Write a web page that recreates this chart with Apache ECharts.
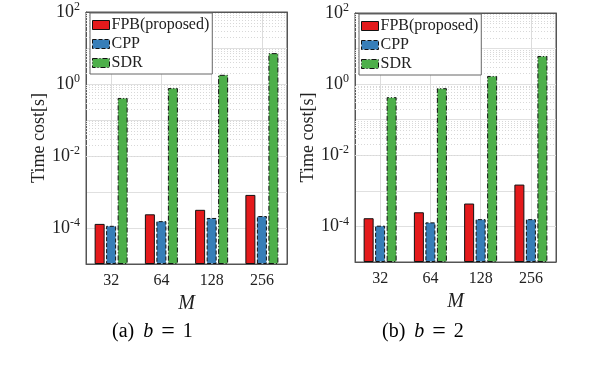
<!DOCTYPE html>
<html>
<head>
<meta charset="utf-8">
<script src="https://cdn.jsdelivr.net/npm/echarts@6/dist/echarts.min.js"></script>
<style>
  html, body { margin: 0; padding: 0; background: #fff; }
  #chart { width: 590px; height: 366px; }
</style>
</head>
<body>
<div id="chart"></div>
<script>
// data
const categories = ['32', '64', '128', '256'];
const fpbA = [1.3e-4, 2.4e-4, 3.2e-4, 8.3e-4];
const cppA = [1.15e-4, 1.55e-4, 1.9e-4, 2.15e-4];
const sdrA = [0.41, 0.77, 1.8, 7.2];
const fpbB = [1.7e-4, 2.5e-4, 4.4e-4, 1.5e-3];
const cppB = [1.05e-4, 1.3e-4, 1.6e-4, 1.6e-4];
const sdrB = [0.43, 0.77, 1.7, 6.2];
const seriesNames = ['FPB(proposed)', 'CPP', 'SDR'];
const yMin = 1e-5, yMax = 1e2;

const serif = '"Liberation Serif", "Times New Roman", serif';
const colors = ['#e41a1c', '#377eb8', '#4daf4a'];
const borderTypes = ['solid', [4, 2], [5, 2, 1, 2]];

// minor grid lines (2..9 per decade)
const minorLines = [];
for (let e = -5; e < 2; e++) {
  for (let k = 2; k <= 9; k++) minorLines.push({ yAxis: k * Math.pow(10, e) });
}

function expLabel(v) {
  const e = Math.round(Math.log10(v));
  if (e % 2 !== 0) return '';
  return '{b|10}{s|' + e + '}';
}

const grids = [
  { left: 86, top: 12, width: 201, height: 252 },
  { left: 355, top: 13, width: 201, height: 249 }
];

const xAxes = [], yAxes = [], series = [], legends = [];
grids.forEach((g, i) => {
  xAxes.push({
    type: 'category', gridIndex: i, data: categories,
    name: 'M', nameLocation: 'middle', nameGap: 27,
    nameTextStyle: { fontFamily: serif, fontStyle: 'italic', fontSize: 20, color: '#222' },
    axisLine: { lineStyle: { color: '#555' } },
    axisTick: { inside: true, alignWithLabel: true, length: 4, lineStyle: { color: '#555' } },
    axisLabel: { fontFamily: serif, fontSize: 16, color: '#222', margin: 9 },
    splitLine: { show: false }
  });
  // top axis only carries the vertical grid lines and ticks at the categories
  xAxes.push({
    type: 'category', gridIndex: i, data: categories, position: 'top',
    axisLine: { lineStyle: { color: '#555' } },
    axisTick: { inside: true, alignWithLabel: true, length: 4, lineStyle: { color: '#555' } },
    axisLabel: { show: false },
    splitLine: { show: true, alignWithLabel: true, lineStyle: { color: '#dcdcdc' } }
  });
  yAxes.push({
    type: 'log', logBase: 10, gridIndex: i, min: yMin, max: yMax, interval: 1,
    startValue: yMin,
    name: 'Time cost[s]', nameLocation: 'middle', nameGap: 37,
    nameTextStyle: { fontFamily: serif, fontSize: 18, color: '#222' },
    axisLine: { show: true, lineStyle: { color: '#555' } },
    axisTick: { inside: true, length: 4, lineStyle: { color: '#555' } },
    axisLabel: {
      formatter: expLabel, margin: 6,
      rich: {
        b: { fontFamily: serif, fontSize: 18, color: '#222' },
        s: { fontFamily: serif, fontSize: 12, color: '#222', verticalAlign: 'top', padding: [0, 0, 10, 0] }
      }
    },
    splitLine: { show: true, lineStyle: { color: '#e0e0e0', width: 1 } }
  });
  yAxes.push({
    type: 'log', logBase: 10, gridIndex: i, min: yMin, max: yMax, interval: 1,
    position: 'right',
    axisLine: { show: true, lineStyle: { color: '#555' } },
    axisTick: { inside: true, length: 4, lineStyle: { color: '#555' } },
    axisLabel: { show: false }, splitLine: { show: false }
  });

  const sets = i === 0 ? [fpbA, cppA, sdrA] : [fpbB, cppB, sdrB];
  sets.forEach((d, k) => {
    const s = {
      name: seriesNames[k], type: 'bar', data: d,
      xAxisIndex: i * 2, yAxisIndex: i * 2,
      barWidth: 10, barGap: '15%',
      itemStyle: { color: colors[k], borderColor: '#111', borderWidth: 1, borderType: borderTypes[k] },
      emphasis: { disabled: true }
    };
    if (k === 0) {
      s.markLine = {
        silent: true, symbol: 'none', z: 1, animation: false,
        label: { show: false },
        lineStyle: { color: '#d8d8d8', type: [1, 2], width: 1 },
        data: minorLines
      };
    }
    series.push(s);
  });

  legends.push({
    data: seriesNames.map((n, k) => ({
      name: n,
      itemStyle: { color: colors[k], borderColor: '#111', borderWidth: 1, borderType: borderTypes[k] }
    })),
    orient: 'vertical', left: g.left + 4, top: g.top + 1,
    icon: 'rect', itemWidth: 17, itemHeight: 9, itemGap: 3,
    padding: [4, 3, 3, 2],
    backgroundColor: '#fff', borderColor: '#666', borderWidth: 1,
    textStyle: { fontFamily: serif, fontSize: 16, color: '#222', padding: [0, 0, 0, -3] },
    selectedMode: false
  });
});

const captionRich = {
  n: { fontFamily: serif, fontSize: 20, color: '#111' },
  i: { fontFamily: serif, fontSize: 20, fontStyle: 'italic', color: '#111', padding: [0, 0, 0, 9] },
  e: { fontFamily: serif, fontSize: 24, color: '#111', padding: [0, 8, 0, 8] }
};

const chart = echarts.init(document.getElementById('chart'), null, { renderer: 'canvas' });
chart.setOption({
  backgroundColor: '#fff',
  animation: false,
  grid: grids.map(g => Object.assign({ show: true, borderColor: '#555', borderWidth: 1, backgroundColor: 'transparent' }, g)),
  xAxis: xAxes,
  yAxis: yAxes,
  legend: legends,
  series: series,
  graphic: [
    { type: 'text', left: 112, top: 320, style: { text: '{n|(a)}{i|b}{e|=}{n|1}', rich: captionRich } },
    { type: 'text', left: 382, top: 320, style: { text: '{n|(b)}{i|b}{e|=}{n|2}', rich: captionRich } }
  ]
});
</script>
</body>
</html>
